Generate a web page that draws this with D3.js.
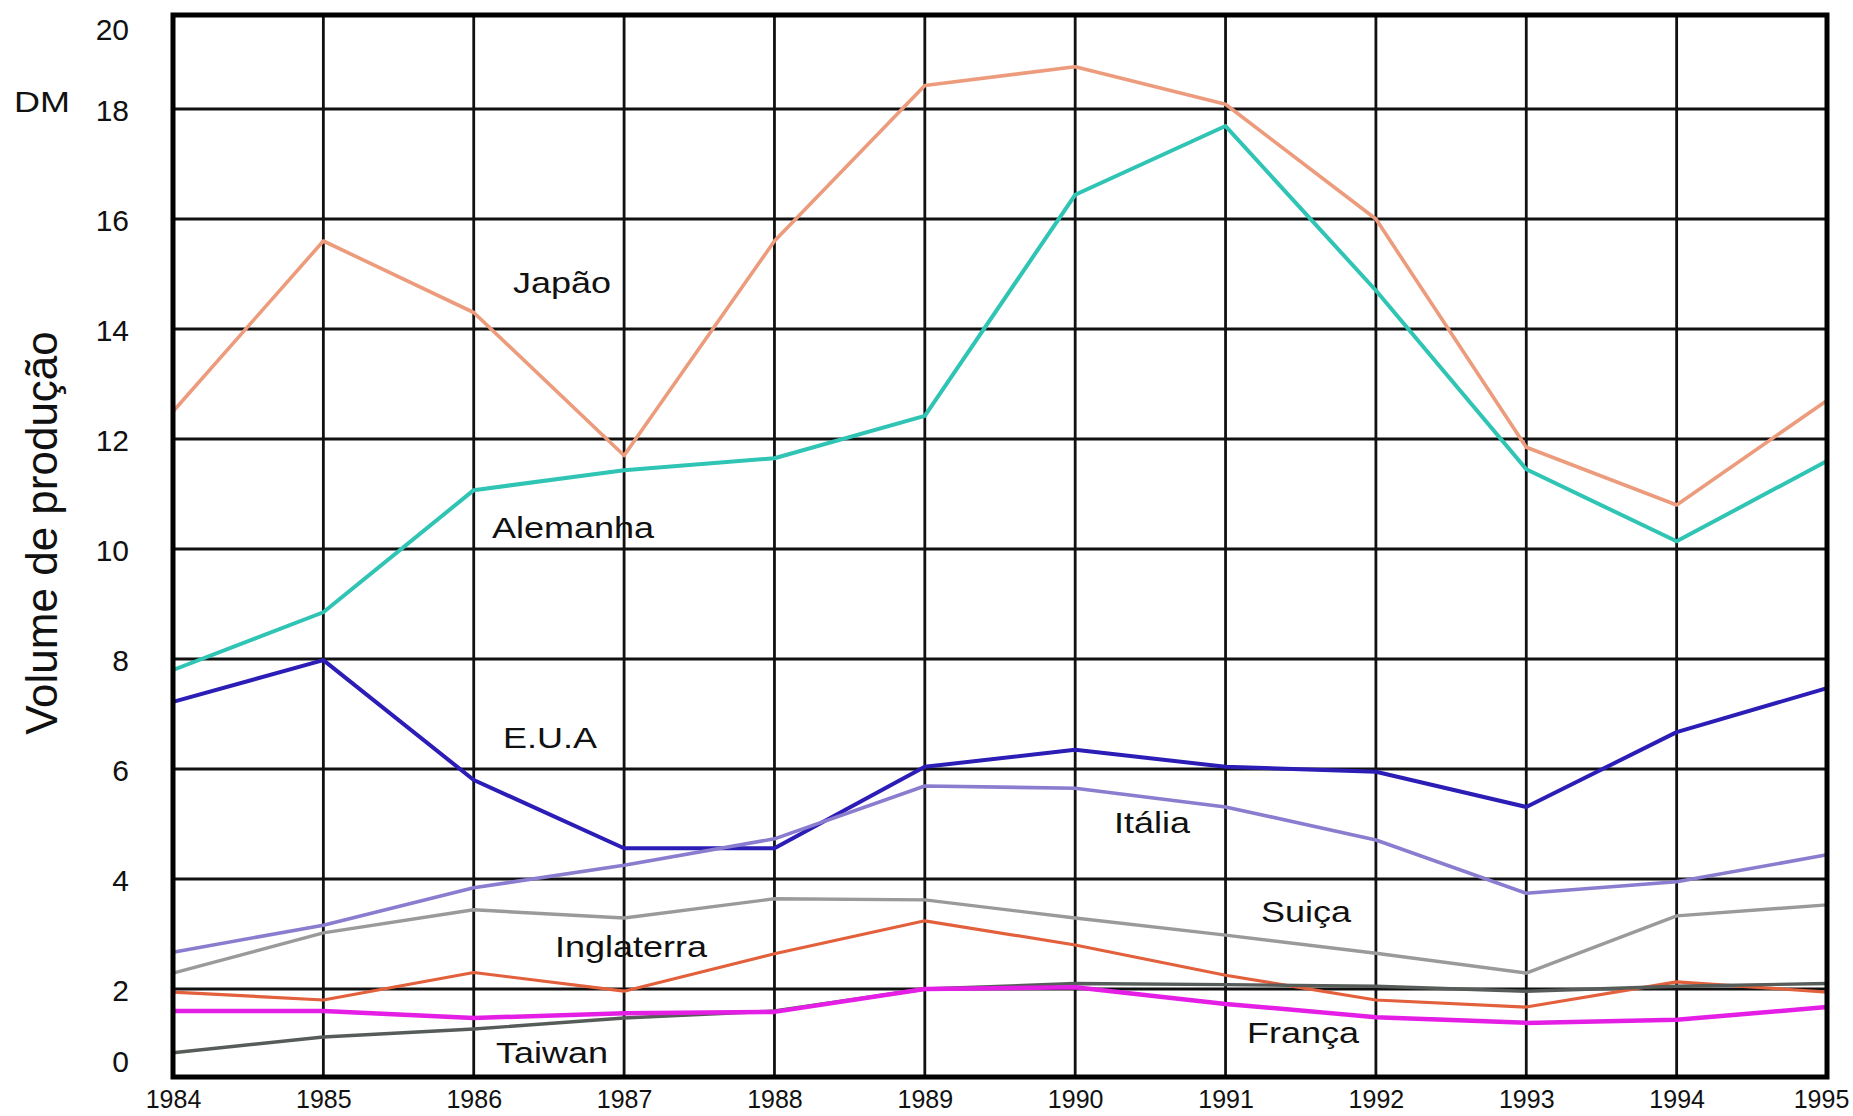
<!DOCTYPE html>
<html>
<head>
<meta charset="utf-8">
<script src="https://cdn.jsdelivr.net/npm/d3@7/dist/d3.min.js"></script>
<style>
  html, body { margin: 0; padding: 0; background: #fff; }
  svg { display: block; }
  text { font-family: "Liberation Sans", Arial, Helvetica, sans-serif; fill: #111; }
</style>
</head>
<body>
<svg id="chart" width="1853" height="1116"></svg>
<script>
// ---- data ----
const years = [1984, 1985, 1986, 1987, 1988, 1989, 1990, 1991, 1992, 1993, 1994, 1995];
const yTicks = [0, 2, 4, 6, 8, 10, 12, 14, 16, 18, 20];

const japao      = [12.5, 15.6, 14.3, 11.7, 15.6, 18.5, 18.9, 18.1, 16.0, 11.85, 10.8, 12.7];
const alemanha   = [7.8, 8.85, 11.07, 11.43, 11.65, 12.42, 16.44, 17.69, 14.7, 11.45, 10.14, 11.6];
const eua        = [7.22, 7.98, 5.8, 4.56, 4.56, 6.04, 6.35, 6.04, 5.95, 5.31, 6.67, 7.47];
const italia     = [2.67, 3.16, 3.84, 4.25, 4.73, 5.69, 5.65, 5.31, 4.71, 3.74, 3.95, 4.44];
const suica      = [2.29, 3.02, 3.44, 3.29, 3.64, 3.62, 3.29, 2.98, 2.65, 2.29, 3.33, 3.53];
const inglaterra = [1.93, 1.75, 2.3, 1.95, 2.64, 3.24, 2.8, 2.25, 1.75, 1.59, 2.13, 1.93];
const taiwan     = [0.55, 0.91, 1.09, 1.34, 1.5, 2.0, 2.1, 2.08, 2.05, 1.95, 2.05, 2.1];
const franca     = [1.5, 1.5, 1.34, 1.45, 1.48, 2.0, 2.03, 1.66, 1.36, 1.23, 1.3, 1.59];

const seriesNames = ["Japão", "Alemanha", "E.U.A", "Itália", "Suiça", "Inglaterra", "Taiwan", "França"];
const seriesValues = [japao, alemanha, eua, italia, suica, inglaterra, taiwan, franca];

// ---- styles ----
const seriesColors = ["#ec9c7c", "#2fc4b4", "#2b1db5", "#8a7cce", "#9a9a9a", "#e2603c", "#565c58", "#e41ee4"];
const seriesWidths = [3.6, 4, 4, 3.6, 3.4, 3.2, 3.4, 4.5];
// label anchor positions (pixel layout, not data)
const labelPos = [
  [562, 293], [573, 538], [550, 748], [1152, 833],
  [1306, 922], [631, 957], [552, 1063], [1303, 1043]
];

const svg = d3.select("#chart");
const plotL = 173, plotR = 1827, plotT = 15, plotB = 1077;

const x = d3.scaleLinear().domain([1984, 1995]).range([plotL, plotR]);
// the printed grid compresses the first and last bands
const y = d3.scaleLinear().domain([0, 2, 18, 20]).range([plotB, 989, 109, plotT]);

// grid
const grid = svg.append("g");
grid.selectAll("line.v").data(years.slice(1, -1)).join("line")
  .attr("class", "v")
  .attr("x1", d => x(d)).attr("x2", d => x(d))
  .attr("y1", plotT).attr("y2", plotB)
  .attr("stroke", "#111").attr("stroke-width", 2.8);
grid.selectAll("line.h").data(yTicks.slice(1, -1)).join("line")
  .attr("class", "h")
  .attr("x1", plotL).attr("x2", plotR)
  .attr("y1", d => y(d)).attr("y2", d => y(d))
  .attr("stroke", "#111").attr("stroke-width", 2.8);

// series lines
const line = d3.line().x((d, i) => x(years[i])).y(d => y(d));
seriesValues.forEach((vals, k) => {
  svg.append("path")
    .datum(vals)
    .attr("d", line)
    .attr("fill", "none")
    .attr("stroke", seriesColors[k])
    .attr("stroke-width", seriesWidths[k])
    .attr("stroke-linejoin", "round");
});

// frame
svg.append("rect")
  .attr("x", plotL).attr("y", plotT)
  .attr("width", plotR - plotL).attr("height", plotB - plotT)
  .attr("fill", "none").attr("stroke", "#000").attr("stroke-width", 5);

// y axis labels
const yAxis = d3.axisLeft(y).tickValues(yTicks).tickSize(0).tickPadding(0).tickFormat(d3.format("d"));
const gy = svg.append("g").attr("transform", "translate(129,0)").call(yAxis);
gy.select(".domain").remove();
gy.selectAll("text")
  .attr("font-size", 30)
  .attr("font-family", "Liberation Sans, Arial, sans-serif")
  .attr("fill", "#111")
  .attr("dy", d => d === 20 ? "0.8em" : d === 0 ? "-0.2em" : "0.38em");

// x axis labels
const xAxis = d3.axisBottom(x).tickValues(years).tickSize(0).tickPadding(0).tickFormat(d3.format("d"));
const gx = svg.append("g").attr("transform", "translate(0,1090)").call(xAxis);
gx.select(".domain").remove();
gx.selectAll("text")
  .attr("font-size", 25)
  .attr("font-family", "Liberation Sans, Arial, sans-serif")
  .attr("fill", "#111")
  .attr("dy", "0.71em")
  .attr("dx", d => d === 1995 ? -6 : 0);

// series labels
seriesNames.forEach((name, k) => {
  svg.append("text")
    .attr("transform", `translate(${labelPos[k][0]},${labelPos[k][1]}) scale(1.2,1)`)
    .attr("text-anchor", "middle")
    .attr("font-size", 30)
    .text(name);
});

// unit label
svg.append("text")
  .attr("transform", "translate(42,112) scale(1.2,1)")
  .attr("text-anchor", "middle")
  .attr("font-size", 30)
  .text("DM");

// y title
svg.append("text")
  .attr("transform", "translate(57,533) rotate(-90)")
  .attr("text-anchor", "middle")
  .attr("font-size", 44)
  .text("Volume de produção");
</script>
</body>
</html>
